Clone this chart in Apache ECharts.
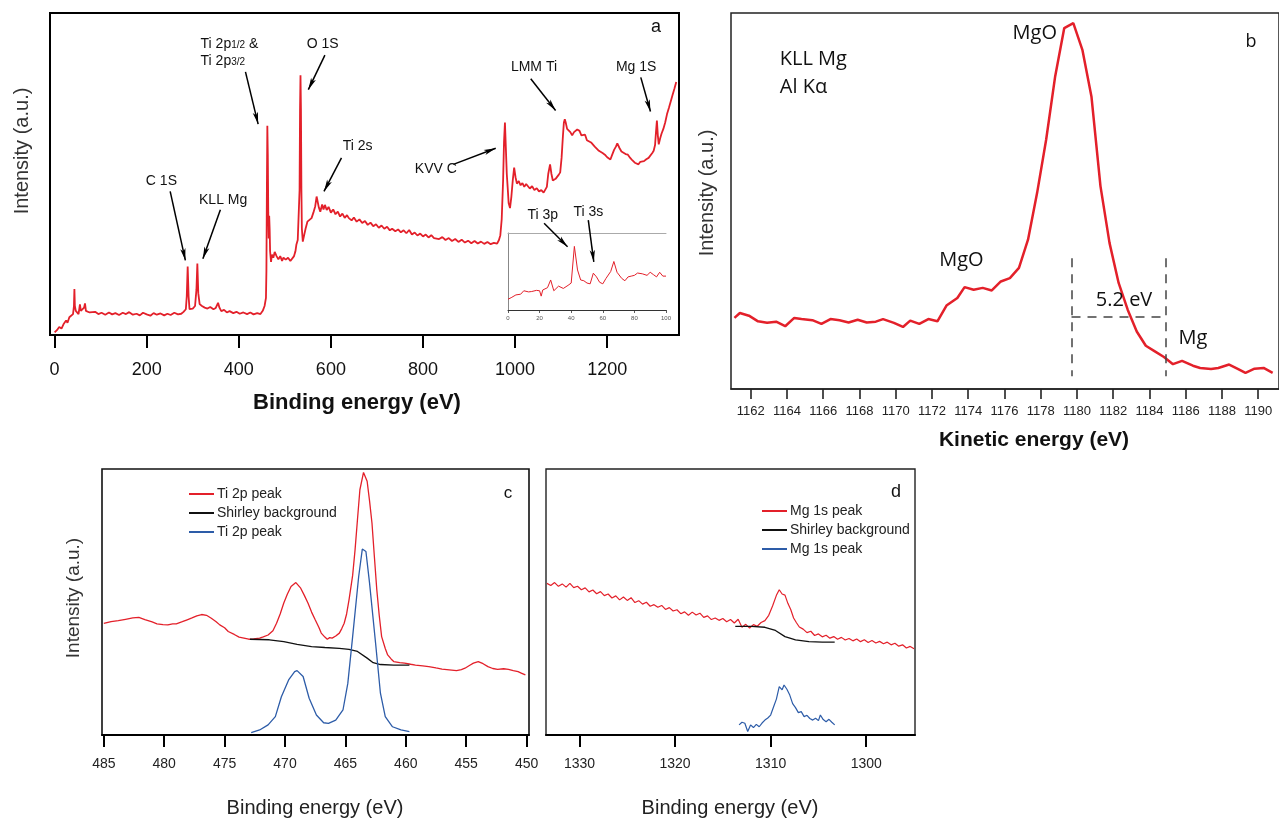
<!DOCTYPE html>
<html>
<head>
<meta charset="utf-8">
<title>XPS spectra</title>
<script src="https://cdn.jsdelivr.net/npm/echarts@6/dist/echarts.min.js"></script>
<style>
  html, body { margin: 0; padding: 0; background: #fff; }
  #main { width: 1279px; height: 820px; }
</style>
</head>
<body>
<div id="main"></div>
<script>
// ---- panel a : survey spectrum (binding energy, eV / intensity, a.u.)
const surveyEnergy = [0, 5, 10, 15, 20, 25, 28, 32, 36, 40, 42, 43, 44, 46, 50, 52, 55, 57, 60, 64, 66, 68, 72, 76, 80, 88, 95, 102, 110, 118, 125, 132, 140, 148, 155, 162, 170, 178, 185, 192, 200, 208, 215, 222, 230, 238, 245, 252, 260, 268, 275, 280, 285, 287, 289, 291, 293, 296, 300, 305, 308, 310, 312, 315, 320, 326, 332, 338, 345, 350, 355, 358, 362, 368, 374, 380, 388, 395, 402, 410, 418, 425, 432, 440, 447, 452, 456, 459, 460, 461, 462, 463, 464, 465, 466, 467, 468, 470, 472, 475, 478, 482, 486, 490, 494, 497, 502, 507, 512, 516, 520, 523, 525, 528, 530, 532, 533, 534, 535, 536, 537, 539, 542, 545, 549, 553, 558, 562, 566, 569, 571, 574, 577, 581, 584, 587, 591, 595, 600, 605, 610, 615, 620, 625, 630, 635, 639, 645, 650, 656, 662, 668, 674, 680, 686, 692, 698, 704, 710, 716, 722, 728, 733, 740, 746, 752, 758, 764, 770, 776, 782, 788, 794, 800, 806, 812, 818, 824, 828, 835, 842, 849, 856, 863, 870, 877, 884, 891, 898, 905, 912, 919, 926, 933, 940, 947, 954, 961, 965, 968, 971, 974, 976, 978, 980, 982, 984, 986, 989, 992, 995, 998, 1001, 1004, 1008, 1012, 1016, 1020, 1024, 1027, 1032, 1037, 1042, 1047, 1052, 1057, 1062, 1065, 1069, 1072, 1076, 1079, 1082, 1084, 1088, 1092, 1095, 1098, 1101, 1104, 1106, 1108, 1110, 1113, 1117, 1120, 1124, 1128, 1131, 1135, 1140, 1144, 1148, 1152, 1156, 1160, 1165, 1169, 1173, 1177, 1182, 1186, 1190, 1195, 1200, 1204, 1207, 1211, 1215, 1219, 1222, 1224, 1227, 1231, 1235, 1240, 1245, 1250, 1255, 1260, 1264, 1268, 1272, 1276, 1280, 1285, 1290, 1294, 1298, 1301, 1304, 1306, 1308, 1310, 1312, 1315, 1318, 1322, 1326, 1330, 1334, 1338, 1342, 1346, 1350];
const surveyIntensity = [0.8, 1.5, 2.5, 2.0, 3.5, 4.5, 3.8, 5.5, 5.0, 6.5, 9, 14.3, 9, 7.5, 8, 6.5, 9.5, 7.5, 8, 8.5, 9.8, 7.5, 7.8, 7, 6.8, 7.2, 6.5, 6.9, 6.3, 7.0, 6.4, 6.8, 6.2, 6.9, 6.5, 7.1, 6.3, 6.6, 6.1, 6.9, 6.4, 6.0, 6.8, 6.3, 6.7, 6.1, 6.6, 6.2, 6.9, 6.4, 6.6, 7.2, 8, 12, 21.3, 12, 8, 7.8, 8.2, 9, 14, 22.2, 13, 9.6, 9, 8.5, 8.2, 8.7, 8, 8.4, 10, 8.5, 7.4, 7.8, 7, 7.4, 6.8, 7.2, 6.6, 7, 6.5, 7.0, 6.4, 6.8, 6.5, 7.5, 9, 11.5, 20, 45, 65, 56, 38, 30, 37, 33, 26, 22.7, 25, 24, 25.8, 24.5, 23.5, 24.5, 23, 24, 23.4, 24, 23, 23.5, 24.5, 26, 28, 29.5, 30, 45, 70, 80.7, 70, 45, 33, 29, 31, 33, 35.2, 35.8, 36.3, 38, 40, 43, 42.5, 39.5, 38.3, 40.5, 39, 40.4, 38.8, 39.8, 38, 39, 37.5, 38.3, 36.8, 37.7, 36.4, 37.2, 36.3, 35.6, 36.5, 35.2, 35.9, 34.8, 35.4, 34.2, 34.9, 33.8, 34.4, 33.3, 34.0, 33.0, 33.6, 32.5, 33.0, 32.2, 32.8, 31.9, 32.5, 31.6, 32.6, 31.2, 31.8, 30.9, 31.5, 30.6, 31.2, 30.3, 31.0, 30.1, 30.5, 29.8, 30.4, 29.5, 30.1, 29.2, 29.8, 28.9, 29.6, 28.7, 29.3, 28.5, 29.2, 28.4, 29.0, 28.3, 28.9, 28.2, 28.6, 28.4, 29.5, 31, 36, 48, 60, 66, 58, 50, 45.7, 41, 39.4, 43, 48, 52, 49, 47, 47.8, 46.5, 47.2, 46, 46.9, 46.7, 45.5, 46.2, 45, 45.6, 44.6, 45, 44.2, 44, 46, 50, 53, 50, 48, 47.8, 48.5, 49, 49.8, 50.5, 55, 62, 66, 67, 66, 64, 64.5, 63, 62, 63, 62.4, 63.8, 63.4, 62, 61.5, 62.2, 60.5, 61, 59.8, 59.2, 58.5, 58, 57.2, 57.6, 56.5, 56, 55.2, 54.8, 54.5, 56, 57.5, 58.5, 59.5, 59.2, 58, 57, 57.5, 56.2, 56, 55, 54.2, 53.5, 53.2, 53, 53.8, 53.3, 54, 54.6, 55, 55.5, 56.5, 57.2, 59, 63, 66.6, 62, 59.2, 61, 62.5, 64, 66, 68.6, 70.5, 72.5, 74.5, 76.5, 78.6];
const surveyTicks = [0, 200, 400, 600, 800, 1000, 1200];

// inset of panel a : low binding energy region (Ti 3p / Ti 3s)
const insetEnergy = [0, 2, 5, 8, 10, 13, 15, 18, 20, 21, 22, 25, 27, 29, 32, 35, 38, 40, 42, 44, 46, 48, 50, 52, 54, 56, 58, 60, 62, 65, 67, 69, 72, 74, 76, 78, 80, 82, 85, 88, 90, 92, 94, 96, 98, 100];
const insetIntensity = [14, 16, 19.6, 20.5, 25, 23.5, 24, 25.5, 25, 18, 26, 29, 39, 25, 31, 28, 32, 35, 82.6, 52, 39, 38, 35, 34, 47.8, 43, 36, 34, 41, 50, 63, 49, 41, 38, 43, 44, 45, 48, 47, 45, 49, 46, 43, 49, 44, 44];
const insetTicks = [0, 20, 40, 60, 80, 100];

// panel a annotations: [text, energy, intensity] and arrows [x1, y1, x2, y2]
const surveyLabels = [
  ['C 1S', 232, 47.8],
  ['KLL Mg', 366, 42],
  ['O 1S', 582, 90.3],
  ['Ti 2s', 658, 58.7],
  ['KVV C', 828, 51.4],
  ['LMM Ti', 1041, 83.3],
  ['Mg 1S', 1263, 83.3],
  ['Ti 3p', 1060, 37.3],
  ['Ti 3s', 1159, 38.1]
];
const surveyArrows = [
  [251, 44.6, 284, 23.2],
  [360, 38.9, 322, 23.7],
  [414.5, 81.7, 442, 65.5],
  [587, 86.9, 551, 76.2],
  [623, 55, 585, 44.6],
  [866, 53, 958, 58],
  [1034, 79.6, 1088, 69.7],
  [1273, 80, 1294, 69.4],
  [1063, 34.7, 1114, 27.4],
  [1159, 35.7, 1171, 22.7]
];

// ---- panel b : KLL Mg Auger (kinetic energy, eV)
const kllEnergy = [1161.1, 1161.4, 1161.9, 1162.4, 1162.9, 1163.4, 1163.9, 1164.4, 1164.8, 1165.4, 1165.9, 1166.4, 1166.9, 1167.4, 1167.9, 1168.4, 1168.9, 1169.3, 1169.9, 1170.4, 1170.8, 1171.3, 1171.8, 1172.3, 1172.8, 1173.4, 1173.8, 1174.3, 1174.8, 1175.3, 1175.8, 1176.3, 1176.8, 1177.3, 1177.8, 1178.3, 1178.8, 1179.3, 1179.8, 1180.3, 1180.8, 1181.3, 1181.8, 1182.3, 1182.8, 1183.3, 1183.8, 1184.3, 1184.8, 1185.3, 1185.8, 1186.4, 1186.8, 1187.4, 1187.8, 1188.4, 1188.9, 1189.3, 1189.8, 1190.3, 1190.8];
const kllIntensity = [18.9, 20.2, 19.5, 18, 17.6, 17.9, 16.7, 18.9, 18.6, 18.3, 17.3, 18.6, 18.3, 17.7, 18.4, 17.7, 17.9, 18.6, 17.6, 16.5, 18.2, 17.3, 18.6, 18, 22.2, 24.2, 27.1, 26.4, 26.9, 26.2, 28.6, 29.5, 32.2, 39.7, 52.1, 66.3, 83.2, 96, 97.3, 90.2, 77.8, 53.9, 38.8, 28.2, 21.1, 15.3, 11.5, 10, 8.5, 6.6, 7.5, 6.2, 5.6, 5.3, 5.6, 6.5, 5.3, 4.3, 5.4, 5.6, 4.3];
const kllTicks = [1162, 1164, 1166, 1168, 1170, 1172, 1174, 1176, 1178, 1180, 1182, 1184, 1186, 1188, 1190];
const kllLabels = [
  ['KLL Mg', 1163.6, 87.6, 'left'],
  ['Al Kα', 1163.6, 80.3, 'left'],
  ['MgO', 1178.9, 94.7, 'right'],
  ['MgO', 1172.4, 34.2, 'left'],
  ['5.2 eV', 1182.6, 23.7, 'center'],
  ['Mg', 1185.6, 13.6, 'left']
];
const kllShift = [
  [1179.7, 34.8, 1179.7, 3.4],
  [1184.9, 34.8, 1184.9, 3.4],
  [1179.7, 19.1, 1184.9, 19.1]
];

// ---- panel c : Ti 2p region
const ti2pEnergy = [485.0, 484.4, 483.8, 483.2, 482.6, 482.1, 481.6, 481.0, 480.6, 480.1, 479.7, 479.3, 479.0, 478.5, 478.1, 477.7, 477.3, 476.9, 476.5, 476.1, 475.7, 475.4, 475.0, 474.7, 474.2, 473.8, 473.4, 473.0, 472.6, 472.1, 471.8, 471.4, 471.0, 470.7, 470.4, 470.1, 469.8, 469.5, 469.1, 468.7, 468.4, 468.1, 467.8, 467.5, 467.2, 467.0, 466.7, 466.5, 466.3, 466.1, 465.8, 465.5, 465.3, 465.1, 464.9, 464.7, 464.4, 464.2, 464.0, 463.8, 463.5, 463.2, 463.0, 462.8, 462.6, 462.4, 462.2, 462.0, 461.7, 461.5, 461.2, 461.0, 460.5, 460.1, 459.6, 459.2, 458.6, 458.1, 457.5, 457.0, 456.4, 455.8, 455.4, 455.1, 454.7, 454.4, 454.0, 453.6, 453.2, 452.8, 452.4, 451.9, 451.5, 451.1, 450.7, 450.4, 450.1];
const ti2pRaw = [42.0, 42.6, 43.0, 43.5, 44.0, 44.2, 43.4, 42.5, 41.8, 41.5, 41.4, 41.8, 41.8, 42.6, 43.3, 44.0, 44.8, 45.3, 45.0, 43.9, 42.6, 41.4, 40.3, 38.9, 37.8, 36.8, 36.4, 36.0, 36.1, 36.4, 36.9, 37.6, 39.2, 42.0, 45.5, 49.6, 53.0, 55.8, 57.3, 55.2, 52.5, 49.6, 46.2, 43.3, 40.5, 38.3, 36.8, 36.0, 36.6, 36.4, 37.2, 38.3, 40.0, 42.0, 45.5, 50.8, 60.0, 69.6, 81.0, 92.2, 98.7, 95.4, 88.0, 79.7, 67.0, 54.6, 45.0, 37.0, 32.5, 30.1, 28.5, 27.6, 27.2, 27.0, 26.6, 26.3, 26.0, 25.7, 25.2, 24.8, 24.5, 24.2, 24.6, 25.1, 26.2, 27.0, 27.6, 26.8, 25.7, 25.0, 24.7, 24.9, 24.7, 24.2, 23.8, 23.2, 22.6];
const ti2pBgEnergy = [472.9, 471.3, 470.1, 469.0, 467.8, 466.7, 465.5, 464.7, 464.0, 463.2, 462.7, 462.1, 461.0, 459.7];
const ti2pBg = [36.0, 35.8, 35.1, 34.1, 33.2, 32.9, 32.6, 32.2, 31.4, 28.9, 27.2, 26.5, 26.3, 26.3];
const ti2pFitEnergy = [472.8, 472.1, 471.4, 470.8, 470.3, 469.7, 469.2, 469.0, 468.5, 468.0, 467.4, 466.8, 466.4, 465.8, 465.2, 464.8, 464.4, 463.9, 463.6, 463.3, 463.0, 462.5, 462.1, 461.7, 461.1, 460.4, 459.7];
const ti2pFit = [0.9, 1.9, 3.8, 6.9, 14.4, 20.7, 23.8, 24.2, 22.0, 13.8, 7.5, 4.6, 4.4, 5.6, 9.4, 19.4, 37.0, 59.6, 69.9, 69.0, 57.1, 34.5, 15.7, 6.9, 3.1, 1.9, 1.3];
const ti2pTicks = [450, 455, 460, 465, 470, 475, 480, 485];

// ---- panel d : Mg 1s region
const mg1sEnergy = [1333.4, 1333.0, 1332.6, 1332.2, 1331.8, 1331.4, 1331.0, 1330.6, 1330.2, 1329.8, 1329.4, 1329.0, 1328.6, 1328.2, 1327.8, 1327.4, 1327.0, 1326.6, 1326.2, 1325.8, 1325.4, 1325.0, 1324.6, 1324.2, 1323.8, 1323.4, 1323.0, 1322.6, 1322.2, 1321.8, 1321.4, 1321.0, 1320.6, 1320.2, 1319.8, 1319.4, 1319.0, 1318.6, 1318.2, 1317.8, 1317.4, 1317.0, 1316.6, 1316.2, 1315.8, 1315.4, 1315.0, 1314.6, 1314.2, 1313.8, 1313.4, 1313.0, 1312.6, 1312.2, 1311.8, 1311.4, 1311.0, 1310.6, 1310.2, 1309.8, 1309.4, 1309.1, 1308.8, 1308.5, 1308.2, 1307.9, 1307.6, 1307.3, 1307.0, 1306.6, 1306.2, 1305.8, 1305.4, 1305.0, 1304.6, 1304.2, 1303.8, 1303.4, 1303.0, 1302.6, 1302.2, 1301.8, 1301.4, 1301.0, 1300.6, 1300.2, 1299.8, 1299.4, 1299.0, 1298.6, 1298.2, 1297.8, 1297.4, 1297.0, 1296.6, 1296.2, 1295.8, 1295.4, 1295.0];
const mg1sRaw = [57.0, 56.2, 57.3, 55.9, 56.8, 55.6, 57.0, 55.4, 55.9, 54.6, 55.3, 53.8, 54.5, 53.1, 53.9, 52.4, 53.0, 51.5, 52.3, 50.8, 51.9, 50.6, 51.6, 49.8, 50.5, 49.2, 49.9, 48.4, 49.0, 48.0, 48.7, 47.2, 47.9, 46.6, 47.1, 45.6, 46.3, 45.0, 46.2, 45.1, 45.8, 44.2, 44.8, 43.4, 44.0, 43.1, 43.8, 42.6, 43.4, 42.1, 43.5, 40.5, 41.6, 40.2, 41.5, 40.9, 42.3, 43.0, 45.0, 48.5, 52.5, 54.6, 53.0, 52.6, 49.5, 47.2, 44.0, 42.2, 40.6, 39.8, 38.5, 39.0, 37.4, 38.0, 36.9, 37.5, 36.4, 37.0, 36.0, 36.7, 35.7, 36.3, 35.4, 36.1, 35.1, 35.8, 34.8, 35.5, 34.6, 35.2, 34.3, 34.9, 33.9, 34.5, 33.4, 33.9, 32.7, 33.3, 32.4];
const mg1sBgEnergy = [1313.7, 1312.0, 1310.6, 1309.5, 1308.5, 1307.4, 1306.0, 1304.6, 1303.3];
const mg1sBg = [40.8, 40.8, 40.5, 39.3, 37.0, 35.8, 35.1, 34.9, 34.9];
const mg1sFitEnergy = [1313.3, 1313.0, 1312.7, 1312.4, 1312.1, 1311.8, 1311.5, 1311.2, 1310.9, 1310.6, 1310.3, 1310.0, 1309.7, 1309.4, 1309.1, 1308.8, 1308.6, 1308.3, 1308.0, 1307.7, 1307.4, 1307.1, 1306.8, 1306.5, 1306.2, 1305.9, 1305.6, 1305.3, 1305.0, 1304.8, 1304.5, 1304.2, 1303.9, 1303.6, 1303.3];
const mg1sFit = [3.8, 4.8, 4.4, 1.3, 3.8, 2.8, 4.0, 3.1, 4.5, 5.6, 6.4, 7.5, 10.5, 13.5, 18.2, 17.0, 18.8, 17.2, 15.0, 11.8, 10.3, 8.4, 8.8, 6.9, 7.4, 6.2, 5.6, 6.3, 5.4, 7.5, 5.8, 5.0, 5.9, 4.8, 3.8];
const mg1sTicks = [1300, 1310, 1320, 1330];

const RED = '#e3202a'
const BLUE = '#2d5ca8'
const FONT = 'Liberation Sans, Arial, sans-serif'

function zip(xs, ys) {
  return xs.map((x, i) => [x, ys[i]])
}

function textLabels(list, size, family) {
  return list.map(([text, x, y, align]) => ({
    name: text,
    coord: [x, y],
    label: { align: align || 'center', fontSize: size, fontFamily: family }
  }))
}

function segments(list) {
  return list.map(s => [{ coord: [s[0], s[1]] }, { coord: [s[2], s[3]] }])
}

const plain = v => String(v)

function bottomAxis(gridIndex, min, max, ticks, opts) {
  return Object.assign({
    type: 'value',
    gridIndex,
    min,
    max,
    splitLine: { show: false },
    axisLine: { show: true, lineStyle: { color: '#000', width: 2 } },
    axisTick: { show: true, customValues: ticks, length: 12, lineStyle: { color: '#000', width: 2 } },
    axisLabel: { customValues: ticks, formatter: plain, fontSize: 14, margin: 22, color: '#222', fontFamily: FONT }
  }, opts || {})
}

function hiddenY(gridIndex) {
  return { type: 'value', gridIndex, min: 0, max: 100, show: false, splitLine: { show: false } }
}

function lineSeries(name, x, y, data, color, width) {
  return {
    name,
    type: 'line',
    xAxisIndex: x,
    yAxisIndex: y,
    data,
    symbol: 'none',
    silent: true,
    animation: false,
    lineStyle: { color, width },
    itemStyle: { color }
  }
}

const chart = echarts.init(document.getElementById('main'))

const subRich = {
  n: { fontSize: 14, fontFamily: FONT, color: '#111' },
  s: { fontSize: 10, fontFamily: FONT, color: '#111', padding: [3, 0, 0, 0] }
}

const survey = lineSeries('survey', 0, 0, zip(surveyEnergy, surveyIntensity), RED, 1.8)
survey.markPoint = {
  symbol: 'circle',
  symbolSize: 1,
  silent: true,
  animation: false,
  itemStyle: { color: 'rgba(0,0,0,0)' },
  label: { show: true, position: 'inside', formatter: '{b}', color: '#111' },
  data: textLabels(surveyLabels, 14, FONT).concat([
    { name: 'Ti 2p1/2 &', coord: [317, 90.3], label: { align: 'left', formatter: '{n|Ti 2p}{s|1/2}{n| &}', rich: subRich } },
    { name: 'Ti 2p3/2', coord: [317, 85.2], label: { align: 'left', formatter: '{n|Ti 2p}{s|3/2}', rich: subRich } }
  ])
}
survey.markLine = {
  silent: true,
  animation: false,
  symbol: ['none', 'arrow'],
  symbolSize: [4, 12],
  lineStyle: { color: '#000', width: 1.5, type: 'solid' },
  itemStyle: { color: '#000' },
  label: { show: false },
  emphasis: { disabled: true },
  data: segments(surveyArrows)
}

const kll = lineSeries('kll', 3, 2, zip(kllEnergy, kllIntensity), RED, 2.5)
kll.markPoint = {
  symbol: 'circle',
  symbolSize: 1,
  silent: true,
  animation: false,
  itemStyle: { color: 'rgba(0,0,0,0)' },
  label: { show: true, position: 'inside', formatter: '{b}', color: '#111' },
  data: textLabels(kllLabels, 20, 'Open Sans, Noto Sans, sans-serif')
}
kll.markLine = {
  silent: true,
  animation: false,
  symbol: ['none', 'none'],
  lineStyle: { color: '#444', width: 1.5, type: [9, 7] },
  label: { show: false },
  emphasis: { disabled: true },
  data: segments(kllShift)
}

const legendName = n => n.split('|')[0]
const legendBase = {
  orient: 'vertical', icon: 'rect', itemWidth: 25, itemHeight: 2, itemGap: 3,
  selectedMode: false, formatter: legendName,
  textStyle: { fontSize: 14, lineHeight: 16, fontFamily: FONT, color: '#222', padding: [0, 0, 0, -2] }
}

function centred(text, x, y, font, fill, rotation) {
  return {
    type: 'text', x, y, rotation: rotation || 0,
    style: { text, font, fill, align: 'center', verticalAlign: 'middle', textAlign: 'center', textVerticalAlign: 'middle' }
  }
}

chart.setOption({
  animation: false,
  backgroundColor: '#fff',
  grid: [
    { left: 50, top: 13, width: 629, height: 322, show: true, borderColor: '#000', borderWidth: 2 },
    { left: 508, top: 233, width: 158, height: 77 },
    { left: 731, top: 13, width: 551, height: 376, show: true, borderColor: '#222', borderWidth: 1.5 },
    { left: 102, top: 469, width: 427, height: 266, show: true, borderColor: '#111', borderWidth: 1.6 },
    { left: 546, top: 469, width: 369, height: 266, show: true, borderColor: '#222', borderWidth: 1.4 }
  ],
  xAxis: [
    bottomAxis(0, -10, 1356, surveyTicks, {
      axisTick: { show: true, customValues: surveyTicks, length: 13, lineStyle: { color: '#000', width: 2 } },
      axisLabel: { customValues: surveyTicks, formatter: plain, fontSize: 18, margin: 26, color: '#111', fontFamily: FONT }
    }),
    bottomAxis(1, 0, 100, insetTicks, {
      axisLine: { show: true, lineStyle: { color: '#333', width: 1 } },
      axisTick: { show: true, customValues: insetTicks, length: 3, lineStyle: { color: '#333', width: 0.8 } },
      axisLabel: { customValues: insetTicks, formatter: plain, fontSize: 6, margin: 5, color: '#555', fontFamily: FONT }
    }),
    {
      type: 'value', gridIndex: 1, position: 'top', min: 0, max: 100,
      axisLine: { show: true, lineStyle: { color: '#aaa', width: 1 } },
      axisTick: { show: false }, axisLabel: { show: false }, splitLine: { show: false }
    },
    bottomAxis(2, 1160.91, 1191.15, kllTicks, {
      axisLine: { show: true, lineStyle: { color: '#222', width: 1.5 } },
      axisTick: { show: true, customValues: kllTicks, length: 10, lineStyle: { color: '#222', width: 1.6 } },
      axisLabel: { customValues: kllTicks, formatter: plain, fontSize: 13, margin: 16, color: '#222', fontFamily: FONT }
    }),
    bottomAxis(3, 449.8, 485.15, ti2pTicks, { inverse: true }),
    bottomAxis(4, 1294.9, 1333.5, mg1sTicks, { inverse: true })
  ],
  yAxis: [
    hiddenY(0),
    {
      type: 'value', gridIndex: 1, position: 'right', min: 0, max: 100,
      axisLine: { show: true, lineStyle: { color: '#888', width: 1 } },
      axisTick: { show: false }, axisLabel: { show: false }, splitLine: { show: false }
    },
    hiddenY(2),
    hiddenY(3),
    hiddenY(4)
  ],
  legend: [
    Object.assign({ left: 184, top: 481, data: ['Ti 2p peak|raw', 'Shirley background|c', 'Ti 2p peak|fit'] }, legendBase),
    Object.assign({ left: 757, top: 498, data: ['Mg 1s peak|raw', 'Shirley background|d', 'Mg 1s peak|fit'] }, legendBase)
  ],
  series: [
    survey,
    lineSeries('inset', 1, 1, zip(insetEnergy, insetIntensity), RED, 1),
    kll,
    lineSeries('Ti 2p peak|raw', 4, 3, zip(ti2pEnergy, ti2pRaw), RED, 1.3),
    lineSeries('Shirley background|c', 4, 3, zip(ti2pBgEnergy, ti2pBg), '#111', 1.3),
    lineSeries('Ti 2p peak|fit', 4, 3, zip(ti2pFitEnergy, ti2pFit), BLUE, 1.3),
    lineSeries('Mg 1s peak|raw', 5, 4, zip(mg1sEnergy, mg1sRaw), RED, 1.2),
    lineSeries('Shirley background|d', 5, 4, zip(mg1sBgEnergy, mg1sBg), '#111', 1.3),
    lineSeries('Mg 1s peak|fit', 5, 4, zip(mg1sFitEnergy, mg1sFit), BLUE, 1.2)
  ],
  graphic: [
    // axis titles
    centred('Binding energy (eV)', 357, 403, 'bold 22px ' + FONT, '#111'),
    centred('Kinetic energy (eV)', 1034, 440, 'bold 21px ' + FONT, '#111'),
    centred('Binding energy (eV)', 315, 808, '20px ' + FONT, '#222'),
    centred('Binding energy (eV)', 730, 808, '20px ' + FONT, '#222'),
    centred('Intensity (a.u.)', 22, 151, '20px ' + FONT, '#333', Math.PI / 2),
    centred('Intensity (a.u.)', 707, 193, '20px ' + FONT, '#333', Math.PI / 2),
    centred('Intensity (a.u.)', 74, 598, '19px ' + FONT, '#333', Math.PI / 2),
    // panel letters
    centred('a', 656, 27, '18px ' + FONT, '#111'),
    centred('b', 1251, 42, '18px Open Sans, sans-serif', '#111'),
    centred('c', 508, 493, '17px ' + FONT, '#111'),
    centred('d', 896, 492, '18px ' + FONT, '#111')
  ]
})
</script>
</body>
</html>
